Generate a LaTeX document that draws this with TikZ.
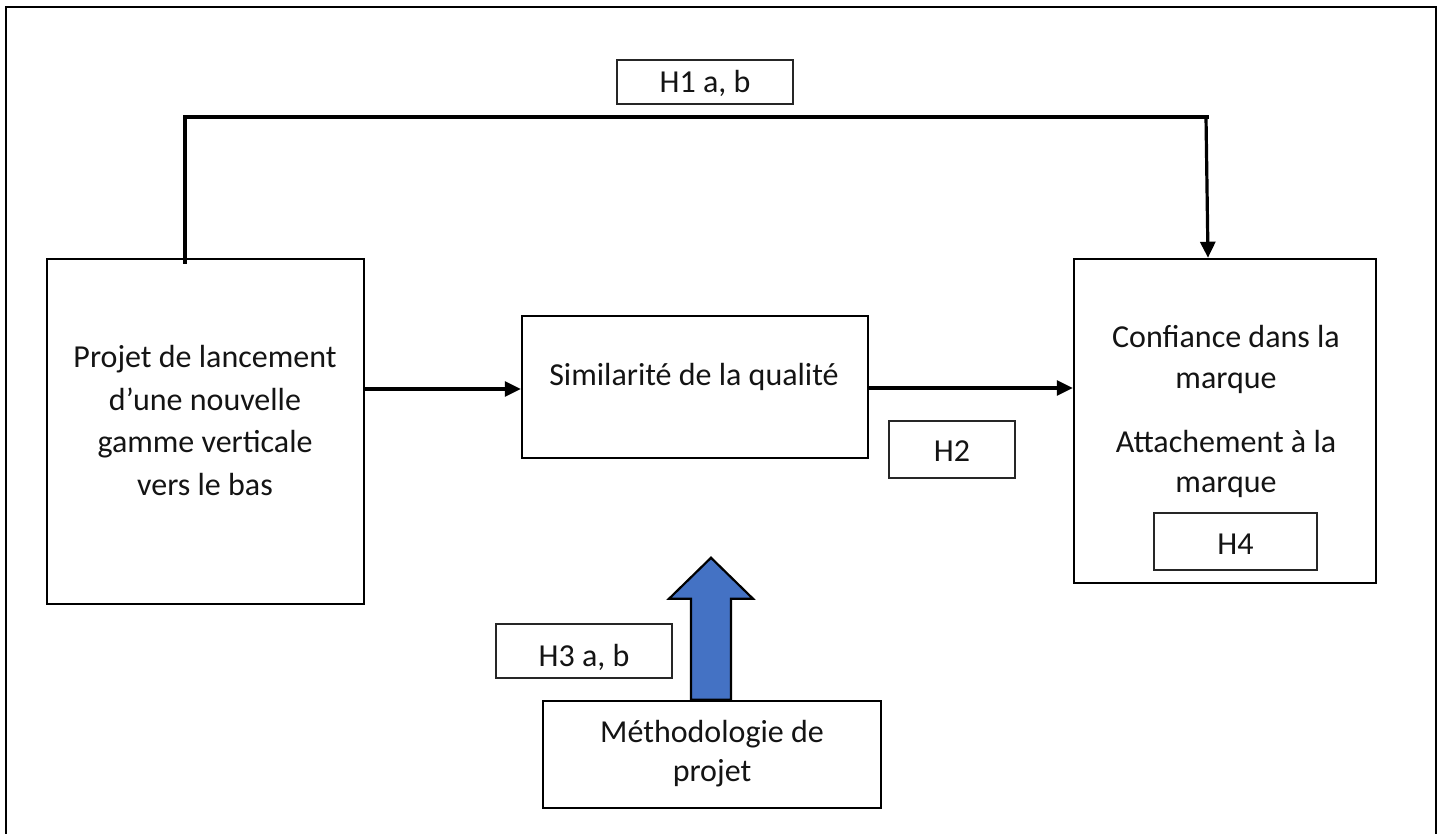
\documentclass[tikz,border=0pt]{standalone}
\usepackage{fontspec}
\setmainfont{Carlito}
\usetikzlibrary{arrows.meta,calc}
\definecolor{arrowblue}{HTML}{4472C4}
\tikzset{
  box/.style={draw=black, line width=2.5pt, inner sep=0pt, fill=white},
  hbox/.style={draw=black!85, line width=1.2pt, inner sep=0pt, fill=white},
  txt/.style={anchor=base, inner sep=0pt, font=\fontsize{32}{40}\selectfont, text=black!92},
  conn/.style={draw=black, line width=3.2pt},
  arr/.style={conn, -{Triangle[length=16pt,width=15pt]}},
  bluearrow/.style={draw=black, line width=2.2pt, fill=arrowblue, line join=miter},
}
\begin{document}
\begin{tikzpicture}[x=1pt,y=-1pt]
\useasboundingbox (0,0) rectangle (1442,834);
% outer frame (bottom edge lies below the picture)
\draw[line width=2.5pt] (6,840) -- (6,7) -- (1436,7) -- (1436,840);

% boxes
\node[box, minimum width=317pt, minimum height=345pt] (L) at (205.5,431.5) {};
\node[box, minimum width=346pt, minimum height=142pt] (M) at (695,387) {};
\node[box, minimum width=302pt, minimum height=324pt] (R) at (1225,421) {};
\node[box, minimum width=338pt, minimum height=107pt] (Meth) at (712,754.5) {};
\node[hbox, minimum width=176pt, minimum height=44pt] (H1) at (705,82) {};
\node[hbox, minimum width=126pt, minimum height=57pt] (H2) at (952,449.5) {};
\node[hbox, minimum width=176pt, minimum height=54pt] (H3) at (584,651) {};
\node[hbox, minimum width=163pt, minimum height=57pt] (H4) at (1235.5,541.5) {};

% texts
\node[txt] (l1) at (205,367) {Projet de lancement};
\node[txt] (l2) at (205,410) {d’une nouvelle};
\node[txt] (l3) at (205,452) {gamme verticale};
\node[txt] (l4) at (205,495) {vers le bas};
\node[txt] (m1) at (694,385) {Similarité de la qualité};
\node[txt] (r1) at (1226,347) {Confiance dans la};
\node[txt] (r2) at (1226,388) {marque};
\node[txt] (r3) at (1226,452) {Attachement à la};
\node[txt] (r4) at (1226,492) {marque};
\node[txt] (t1) at (705,93) {H1 a, b};
\node[txt] (t2) at (952,461) {H2};
\node[txt] (t3) at (584,666) {H3 a, b};
\node[txt] (t4) at (1235.5,554) {H4};
\node[txt] (e1) at (712,742) {Méthodologie de};
\node[txt] (e2) at (712,781) {projet};

% connectors
\coordinate (h1s) at (185,264);
\coordinate (h1c) at (1209,117);
\draw[conn] (h1s) |- (h1c);
\draw[arr] (1206,117) -- ($(R.north)+(-17,0)$);
\coordinate (a1) at (365,389);
\draw[arr] (a1 -| L.east) -- (a1 -| M.west);
\coordinate (a2) at (870,388);
\draw[arr] (a2 -| M.east) -- (a2 -| R.west);

% blue block arrow
\coordinate (ba) at ($(Meth.north)+(-1,0)$);
\draw[bluearrow] ($(ba)+(-20,0)$) -- ($(ba)+(-20,-101)$) -- ($(ba)+(-42,-101)$)
  -- ($(ba)+(0,-142)$) -- ($(ba)+(42,-101)$) -- ($(ba)+(20,-101)$) -- ($(ba)+(20,0)$) -- cycle;
\end{tikzpicture}
\end{document}
